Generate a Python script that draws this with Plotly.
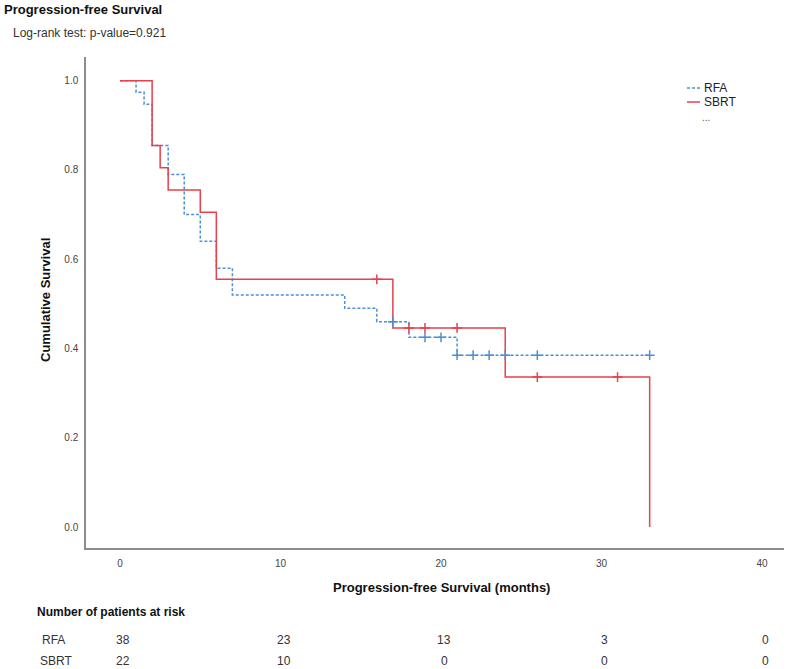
import plotly.graph_objects as go

# ---- data ----
rfa_times = [0, 1, 1.5, 2, 3, 4, 5, 6, 7, 14, 16, 18, 21, 33]
rfa_surv = [1.0, 0.974, 0.947, 0.855, 0.79, 0.70, 0.64, 0.58, 0.52, 0.49, 0.46, 0.425, 0.385, 0.385]
rfa_cens_t = [17, 19, 20, 21, 22, 23, 24, 26, 33]
rfa_cens_s = [0.46, 0.425, 0.425, 0.385, 0.385, 0.385, 0.385, 0.385, 0.385]

sbrt_times = [0, 2, 2.5, 3, 5, 6, 17, 24, 33]
sbrt_surv = [1.0, 0.855, 0.805, 0.755, 0.705, 0.555, 0.446, 0.336, 0.0]
sbrt_cens_t = [16, 18, 19, 21, 26, 31]
sbrt_cens_s = [0.555, 0.446, 0.446, 0.446, 0.336, 0.336]

risk_times = [0, 10, 20, 30, 40]
rfa_risk = [38, 23, 13, 3, 0]
sbrt_risk = [22, 10, 0, 0, 0]

x_ticks = [0, 10, 20, 30, 40]
y_ticks = [0.0, 0.2, 0.4, 0.6, 0.8, 1.0]

BLUE = "#4a8fdc"
RED = "#e8404c"
FONT = "Liberation Sans, Arial, sans-serif"
NARROW = "Liberation Sans Narrow, Liberation Sans, Arial, sans-serif"

fig = go.Figure()
fig.add_trace(go.Scatter(x=rfa_times, y=rfa_surv, mode="lines", line_shape="hv",
                         line=dict(color=BLUE, width=1.5, dash="3px,2px"), name="RFA",
                         showlegend=False))
fig.add_trace(go.Scatter(x=sbrt_times, y=sbrt_surv, mode="lines", line_shape="hv",
                         line=dict(color=RED, width=1.5), name="SBRT", showlegend=False))
fig.add_trace(go.Scatter(x=rfa_cens_t, y=rfa_cens_s, mode="markers",
                         marker=dict(symbol="cross-thin", size=7, line=dict(color=BLUE, width=1.5)),
                         showlegend=False))
fig.add_trace(go.Scatter(x=sbrt_cens_t, y=sbrt_cens_s, mode="markers",
                         marker=dict(symbol="cross-thin", size=7, line=dict(color=RED, width=1.5)),
                         showlegend=False))

L, R, T, B = 86, 16, 57, 121
W, H = 800, 669
pw, ph = W - L - R, H - T - B

def px(xp):
    return (xp - L) / pw

def py(yp):
    return (H - B - yp) / ph

ann = []
ann.append(dict(text="<b>Progression-free Survival</b>", x=px(2), y=py(9), xref="paper", yref="paper",
                xanchor="left", yanchor="middle", showarrow=False, font=dict(size=13, color="#111", family=FONT)))
ann.append(dict(text="Log-rank test: p-value=0.921", x=px(11), y=py(33), xref="paper", yref="paper",
                xanchor="left", yanchor="middle", showarrow=False, font=dict(size=12, color="#333", family=FONT)))
ann.append(dict(text="<b>Cumulative Survival</b>", x=px(45), y=py(300), xref="paper", yref="paper",
                xanchor="center", yanchor="middle", textangle=-90, showarrow=False,
                font=dict(size=13, color="#111", family=FONT)))
ann.append(dict(text="<b>Progression-free Survival (months)</b>", x=px(441), y=py(587), xref="paper", yref="paper",
                xanchor="center", yanchor="middle", showarrow=False, font=dict(size=13, color="#111", family=FONT)))
ann.append(dict(text="<b>Number of patients at risk</b>", x=px(35), y=py(612), xref="paper", yref="paper",
                xanchor="left", yanchor="middle", showarrow=False, font=dict(size=12, color="#111", family=FONT)))
ann.append(dict(text="RFA", x=px(40), y=py(640), xref="paper", yref="paper",
                xanchor="left", yanchor="middle", showarrow=False, font=dict(size=12, color="#333", family=FONT)))
ann.append(dict(text="SBRT", x=px(38), y=py(661), xref="paper", yref="paper",
                xanchor="left", yanchor="middle", showarrow=False, font=dict(size=12, color="#333", family=FONT)))
for t, a, b in zip(risk_times, rfa_risk, sbrt_risk):
    ann.append(dict(text=str(a), x=t + 0.2, y=py(640), xref="x", yref="paper", xanchor="center",
                    yanchor="middle", showarrow=False, font=dict(size=12, color="#333", family=NARROW)))
    ann.append(dict(text=str(b), x=t + 0.2, y=py(661), xref="x", yref="paper", xanchor="center",
                    yanchor="middle", showarrow=False, font=dict(size=12, color="#333", family=NARROW)))

# legend (drawn manually, small samples as in the reference)
ann.append(dict(text="RFA", x=px(702), y=py(88), xref="paper", yref="paper", xanchor="left",
                yanchor="middle", showarrow=False, font=dict(size=12, color="#222", family=FONT)))
ann.append(dict(text="SBRT", x=px(702), y=py(102), xref="paper", yref="paper", xanchor="left",
                yanchor="middle", showarrow=False, font=dict(size=12, color="#222", family=FONT)))
ann.append(dict(text="...", x=px(700), y=py(118), xref="paper", yref="paper", xanchor="left",
                yanchor="middle", showarrow=False, font=dict(size=10, color="#555", family=FONT)))
shapes = [
    dict(type="line", xref="paper", yref="paper", x0=px(687), x1=px(700), y0=py(88), y1=py(88),
         line=dict(color=BLUE, width=1.5, dash="3px,2px")),
    dict(type="line", xref="paper", yref="paper", x0=px(687), x1=px(700), y0=py(102), y1=py(102),
         line=dict(color=RED, width=1.5)),
]

fig.update_layout(
    width=W, height=H, margin=dict(l=L, r=R, t=T, b=B),
    paper_bgcolor="white", plot_bgcolor="white",
    annotations=ann, shapes=shapes, showlegend=False,
    xaxis=dict(range=[-2.12, 41.37], tickvals=x_ticks, ticktext=[str(v) for v in x_ticks],
               showgrid=False, zeroline=False, showline=True, linecolor="#8c8c8c", linewidth=1.5,
               ticks="", ticklabelstandoff=5, tickfont=dict(size=10, color="#444", family=NARROW)),
    yaxis=dict(range=[-0.047, 1.053], tickvals=y_ticks, ticktext=[f"{v:.1f}" for v in y_ticks],
               showgrid=False, zeroline=False, showline=True, linecolor="#8c8c8c", linewidth=1.5,
               ticks="", ticklabelstandoff=4, tickfont=dict(size=10, color="#444", family=NARROW)),
)

fig.write_html("out.html", config={"displayModeBar": False},
               post_script="document.body.style.margin='0';document.body.style.overflow='hidden';")
